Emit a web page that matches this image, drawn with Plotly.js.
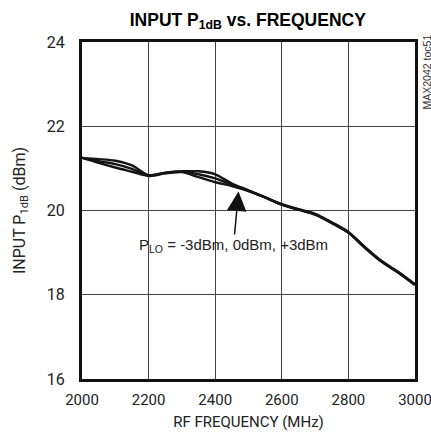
<!DOCTYPE html>
<html>
<head>
<meta charset="utf-8">
<script src="https://cdn.plot.ly/plotly-3.0.1.min.js"></script>
<style>html,body{margin:0;padding:0;background:#fff;}#chart{width:431px;height:436px;}</style>
</head>
<body>
<div id="chart"></div>
<script>
const freq = [2000, 2050, 2100, 2150, 2200, 2250, 2300, 2350, 2400, 2450, 2500, 2550, 2600, 2650, 2700, 2750, 2800, 2850, 2900, 2950, 3000];
const p1dbM3 = [21.25, 21.22, 21.18, 21.07, 20.84, 20.90, 20.93, 20.93, 20.86, 20.64, 20.48, 20.31, 20.14, 20.02, 19.90, 19.70, 19.47, 19.11, 18.78, 18.52, 18.23];
const p1db0  = [21.25, 21.17, 21.10, 20.99, 20.83, 20.89, 20.92, 20.86, 20.76, 20.61, 20.47, 20.31, 20.14, 20.02, 19.91, 19.71, 19.48, 19.12, 18.79, 18.53, 18.24];
const p1dbP3 = [21.25, 21.13, 21.02, 20.92, 20.82, 20.88, 20.91, 20.79, 20.67, 20.58, 20.46, 20.31, 20.15, 20.03, 19.92, 19.72, 19.49, 19.13, 18.80, 18.54, 18.25];
const xTicks = [2000, 2200, 2400, 2600, 2800, 3000];
const yTicks = [16, 18, 20, 22, 24];

const FONT = 'Roboto, "Liberation Sans", Arial, sans-serif';
const FONT2 = '"Liberation Sans", Arial, sans-serif';
const lineStyle = {color: '#141414', width: 2.4, shape: 'spline', smoothing: 0.8};

const traces = [p1dbM3, p1db0, p1dbP3].map((ys, i) => ({
  x: freq, y: ys, type: 'scatter', mode: 'lines', line: lineStyle,
  name: ['-3dBm', '0dBm', '+3dBm'][i], showlegend: false, hoverinfo: 'skip'
}));

const layout = {
  width: 431, height: 436,
  margin: {l: 82, r: 16, t: 42, b: 57},
  paper_bgcolor: '#fff', plot_bgcolor: '#fff',
  font: {family: FONT, size: 15, color: '#222'},
  title: {
    text: '<b>INPUT P<sub>1dB</sub> vs. FREQUENCY</b>',
    font: {family: FONT2, size: 17.5, color: '#000'},
    x: 0.575, xanchor: 'center', y: 0.955, yanchor: 'middle'
  },
  xaxis: {
    range: [2000, 3000], tickvals: xTicks, ticktext: xTicks.map(String),
    showgrid: true, gridcolor: '#444', gridwidth: 1,
    showline: true, linecolor: '#111', linewidth: 3, mirror: true,
    ticks: '', ticklabelstandoff: 5, ticklabeloverflow: 'allow', zeroline: false, fixedrange: true,
    tickfont: {family: FONT, size: 15, color: '#222'},
    title: {text: 'RF FREQUENCY (MHz)', font: {family: FONT, size: 15, color: '#222'}, standoff: 9}
  },
  yaxis: {
    range: [16, 24], tickvals: yTicks, ticktext: yTicks.map(String),
    showgrid: true, gridcolor: '#444', gridwidth: 1,
    showline: true, linecolor: '#111', linewidth: 3, mirror: true,
    ticks: '', ticklabelstandoff: 11, zeroline: false, fixedrange: true,
    tickfont: {family: FONT, size: 16, color: '#222'},
    title: {text: 'INPUT P<sub>1dB</sub> (dBm)', font: {family: FONT, size: 16, color: '#222'}, standoff: 18}
  },
  annotations: [
    {
      x: 2470, y: 20.45, xref: 'x', yref: 'y',
      text: 'P<sub>LO</sub> = -3dBm, 0dBm, +3dBm',
      showarrow: true, ax: -5, ay: 54, arrowhead: 2, arrowsize: 2.6, arrowwidth: 1.5,
      arrowcolor: '#111', standoff: 0, startstandoff: 0,
      font: {family: FONT2, size: 15, color: '#222'}
    },
    {
      x: 1, y: 1, xref: 'paper', yref: 'paper', xanchor: 'left', yanchor: 'top',
      xshift: 3, yshift: 9,
      text: 'MAX2042 toc51', textangle: -90, showarrow: false,
      font: {family: FONT2, size: 10.5, color: '#333'}
    }
  ]
};

Plotly.newPlot('chart', traces, layout, {displayModeBar: false, staticPlot: true});
</script>
</body>
</html>
